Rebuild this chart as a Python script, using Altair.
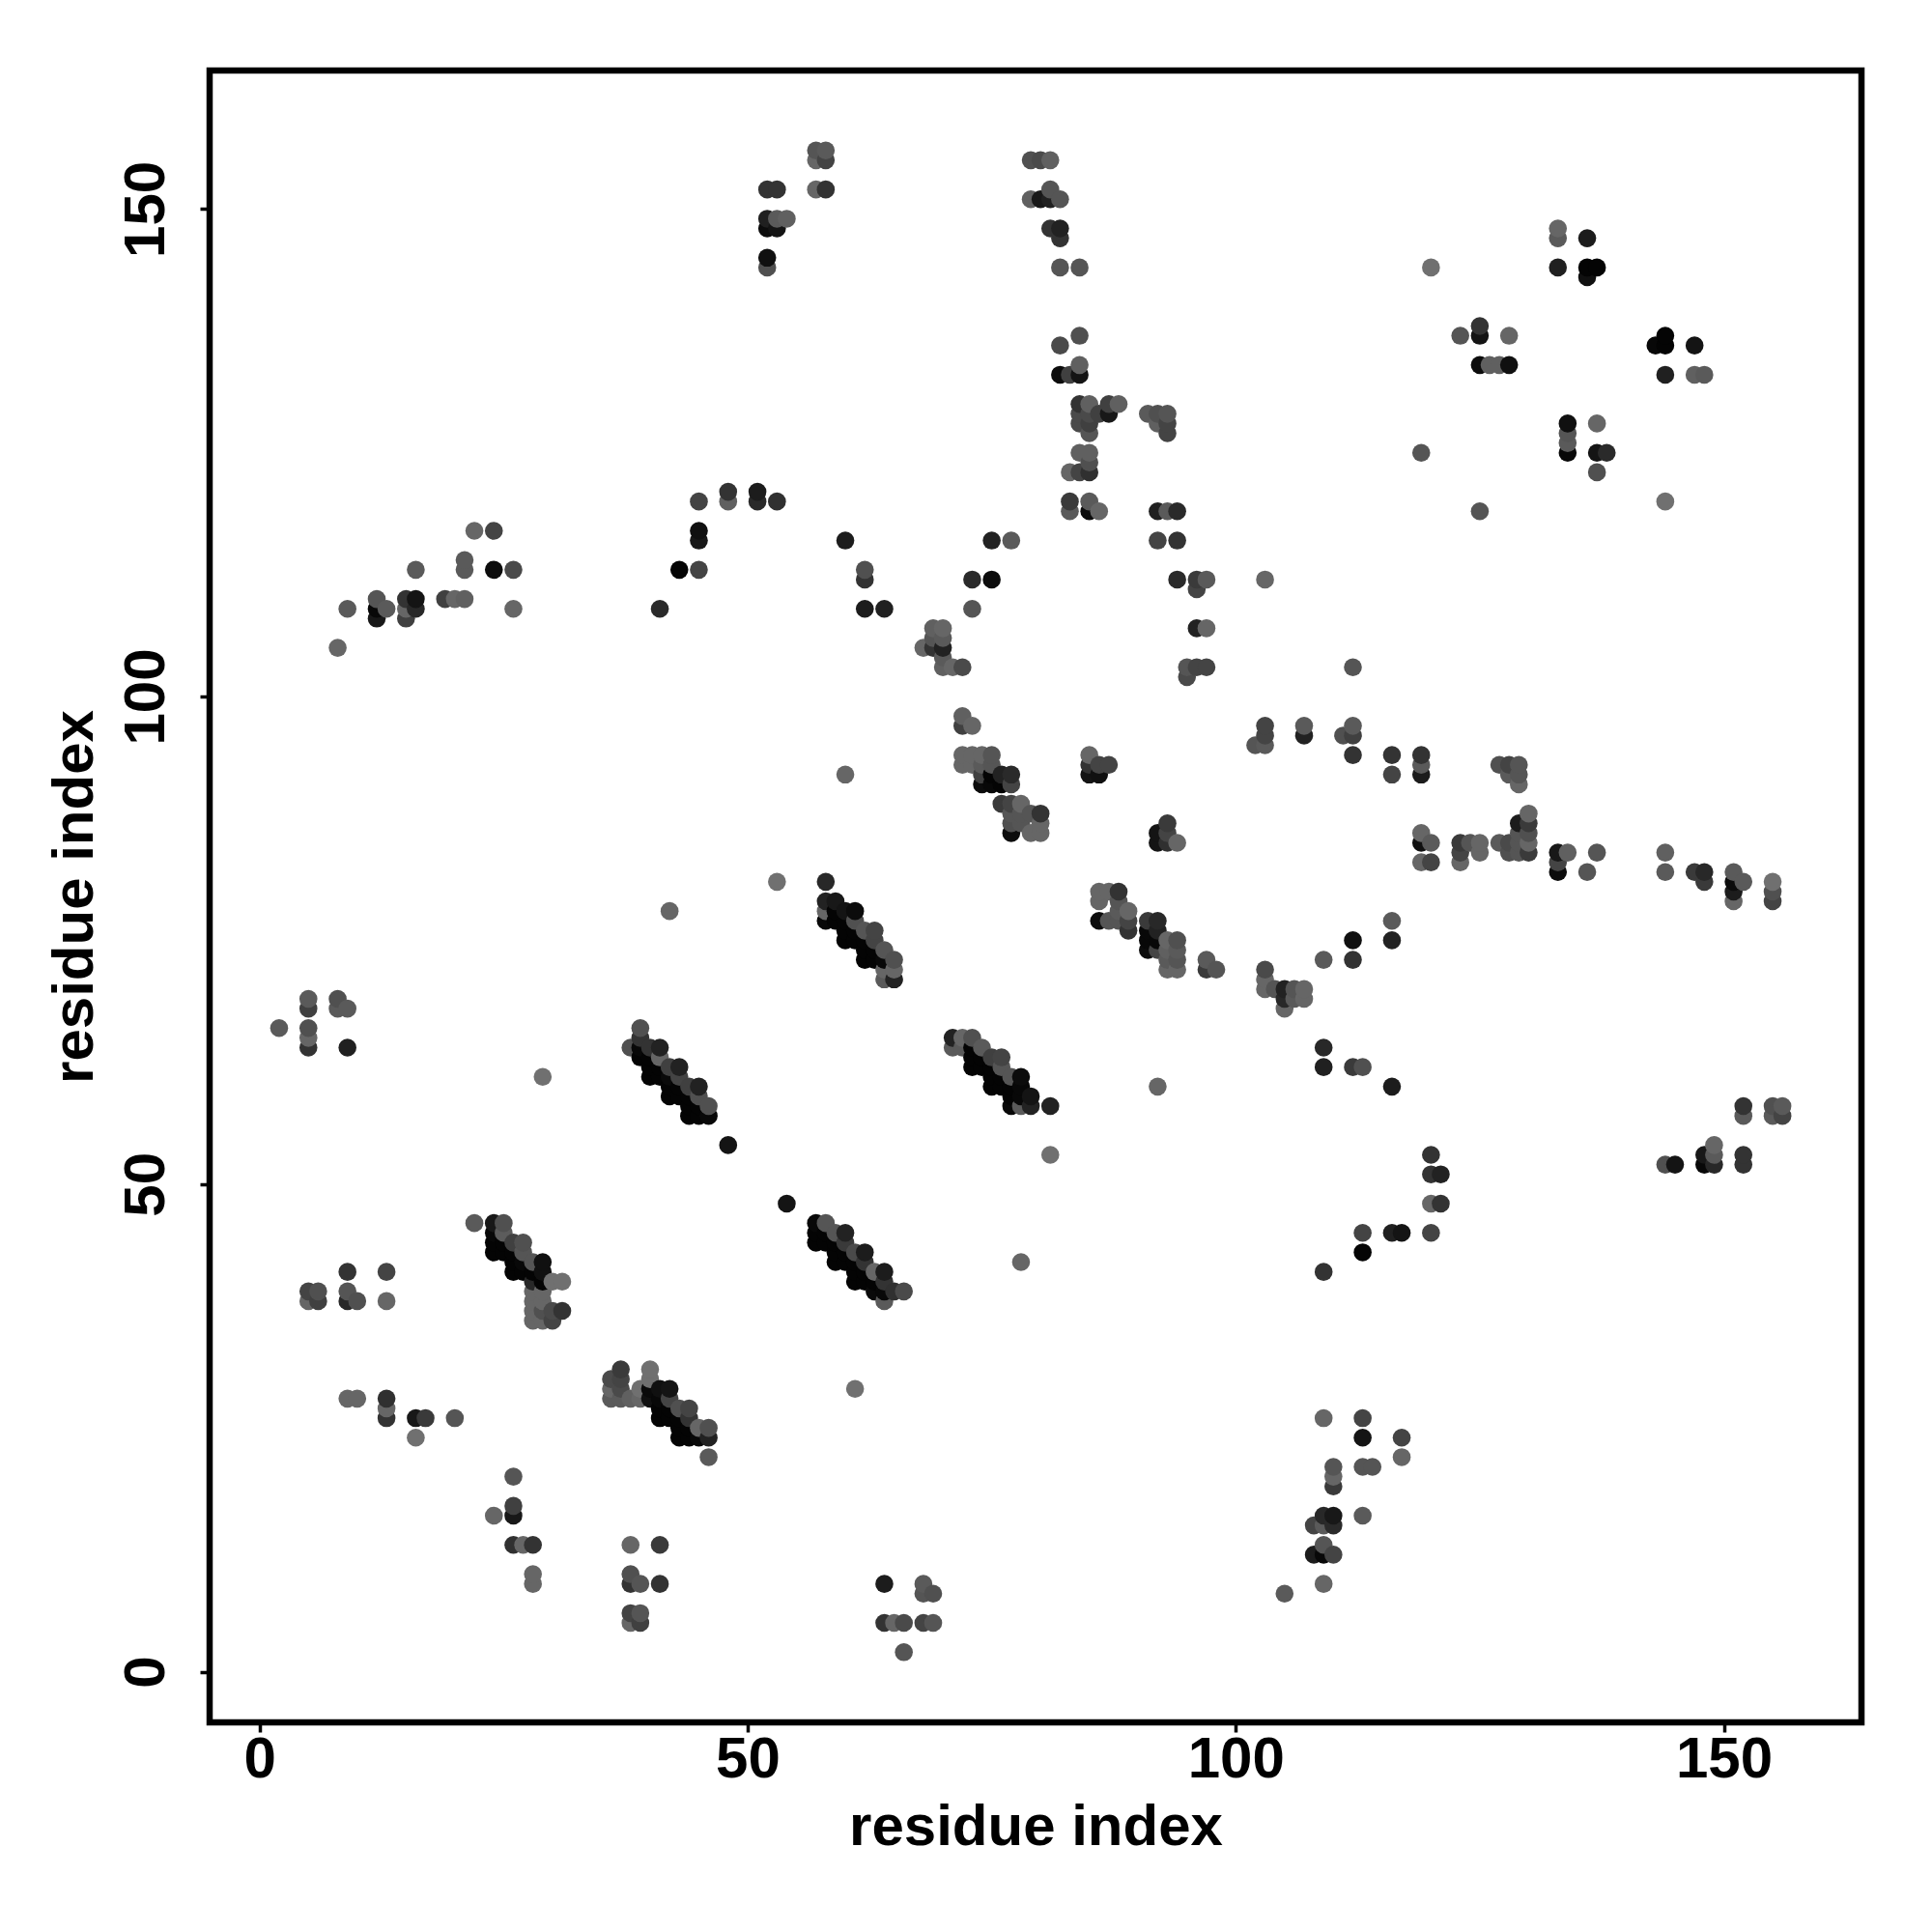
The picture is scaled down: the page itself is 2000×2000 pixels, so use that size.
import altair as alt
import pandas as pd

# (x, y, shade) triples, one list per cluster
low_left = [(26,20,0x55),(26,17,0x40),(26,16,0x18),(24,16,0x66),(26,13,0x30),(27,13,0x66),(28,13,0x33),
    (28,10,0x66),(28,9,0x66),(38,13,0x66),(41,13,0x3a),(38,10,0x50),(39,9,0x55),(38,9,0x33),(41,9,0x33),
    (38,6,0x44),(39,6,0x55),(38,5,0x66),(39,5,0x40),(9,28,0x66),(10,28,0x66),(13,28,0x30),(13,27,0x66),
    (13,26,0x33),(16,26,0x18),(17,26,0x3a),(20,26,0x55),(16,24,0x70),(9,41,0x33),(13,41,0x44),(5,39,0x44),
    (6,39,0x50),(5,38,0x66),(6,38,0x40),(9,39,0x55),(9,38,0x28),(10,38,0x50),(13,38,0x66)]
diag_24 = [(22,46,0x5a),(24,46,0x18),(25,46,0x50),(24,45,0x08),(24,44,0x04),(24,43,0x04),(25,45,0x5c),(25,44,0x04),
    (25,43,0x04),(26,44,0x40),(27,44,0x50),(27,43,0x55),(26,43,0x04),(26,42,0x04),(26,41,0x04),(27,42,0x08),
    (27,41,0x04),(28,40,0x28),(28,41,0x04),(28,42,0x55),(29,42,0x10),(29,41,0x10),(29,40,0x04),(30,40,0x70),
    (31,40,0x70),(29,39,0x66),(28,39,0x66),(28,38,0x66),(28,37,0x66),(28,36,0x66),(29,36,0x66),(29,37,0x50),
    (29,38,0x66),(30,37,0x4a),(30,36,0x44),(31,37,0x33)]
diag_39 = [(39,66,0x50),(38,64,0x50),(39,65,0x33),(39,64,0x08),(39,63,0x04),(40,64,0x33),(41,64,0x22),(41,63,0x66),
    (40,63,0x04),(40,62,0x04),(40,61,0x04),(42,62,0x40),(43,62,0x22),(43,61,0x44),(42,61,0x0a),(41,62,0x04),
    (41,61,0x04),(42,60,0x04),(42,59,0x04),(43,60,0x04),(44,60,0x40),(45,60,0x22),(45,59,0x50),(44,59,0x04),
    (43,59,0x04),(44,58,0x04),(44,57,0x04),(45,58,0x04),(45,57,0x04),(46,58,0x50),(46,57,0x08),(48,54,0x14),(29,61,0x70)]
upper_left_small = [(5,69,0x5a),(5,68,0x40),(8,69,0x50),(8,68,0x5a),(9,68,0x5a),(2,66,0x5a),(5,66,0x50),(5,65,0x66),
    (5,64,0x33),(9,64,0x20)]
diag_37 = [(37,31,0x3a),(36,30,0x4a),(37,30,0x44),(36,29,0x66),(37,29,0x4a),(36,28,0x5a),(37,28,0x5a),(38,28,0x60),
    (39,29,0x70),(39,28,0x66),(40,31,0x70),(40,30,0x70),(40,29,0x0a),(40,28,0x10),(41,29,0x10),(42,29,0x14),
    (41,28,0x08),(41,27,0x04),(41,26,0x04),(42,28,0x44),(42,27,0x04),(42,26,0x04),(43,27,0x50),(44,27,0x44),
    (44,26,0x33),(43,26,0x04),(43,25,0x04),(43,24,0x04),(44,25,0x04),(44,24,0x04),(45,25,0x66),(45,24,0x08),
    (46,25,0x50),(46,24,0x22),(46,22,0x5a)]
diag_58 = [(42,78,0x66),(53,81,0x70),(58,81,0x28),(60,92,0x66),(58,79,0x22),(59,79,0x18),(60,78,0x14),(61,78,0x0c),
    (58,78,0x66),(58,77,0x08),(59,78,0x04),(59,77,0x04),(60,77,0x04),(60,76,0x04),(60,75,0x04),(61,77,0x50),(62,76,0x55),
    (63,76,0x44),(63,75,0x44),(62,75,0x04),(61,76,0x04),(61,75,0x04),(62,74,0x04),(62,73,0x04),(63,74,0x04),
    (63,73,0x04),(64,74,0x55),(64,73,0x08),(65,73,0x50),(65,72,0x66),(65,71,0x22),(64,71,0x5a),(64,72,0x66)]
diag_73 = [(71,65,0x22),(71,64,0x5a),(72,65,0x66),(73,65,0x50),(74,64,0x5a),(73,64,0x04),(72,64,0x5a),(73,63,0x04),
    (73,62,0x04),(74,63,0x04),(74,62,0x04),(75,63,0x40),(76,63,0x44),(76,62,0x55),(75,62,0x04),(75,61,0x04),
    (75,60,0x04),(76,61,0x04),(76,60,0x04),(77,61,0x55),(78,61,0x0c),(78,60,0x08),(77,60,0x04),(77,59,0x04),
    (77,58,0x08),(78,59,0x08),(78,58,0x5a),(79,59,0x14),(79,58,0x22),(81,58,0x22),(81,53,0x70)]
diag_57 = [(54,48,0x14),(57,46,0x08),(58,46,0x55),(57,45,0x04),(57,44,0x04),(58,45,0x04),(58,44,0x04),(59,45,0x55),
    (60,45,0x22),(60,44,0x3a),(59,44,0x04),(59,43,0x04),(59,42,0x04),(60,43,0x04),(60,42,0x04),(61,43,0x4a),
    (62,43,0x1c),(62,42,0x33),(61,42,0x04),(61,41,0x04),(61,40,0x04),(62,41,0x04),(62,40,0x04),(63,41,0x66),
    (64,41,0x1c),(64,40,0x33),(63,40,0x04),(63,39,0x0a),(64,39,0x08),(65,39,0x30),(66,39,0x4a),(64,38,0x5a),
    (78,42,0x66),(61,29,0x70)]
low_mid = [(64,9,0x1c),(68,9,0x5a),(68,8,0x55),(69,8,0x50),(64,5,0x33),(65,5,0x66),(66,5,0x4a),(68,5,0x44),
    (69,5,0x55),(66,2,0x55)]
low_right = [(105,8,0x5a),(109,9,0x66),(108,12,0x1c),(109,12,0x08),(110,12,0x44),(109,13,0x55),(108,15,0x44),
    (109,15,0x5a),(110,15,0x2a),(109,16,0x28),(110,16,0x18),(113,16,0x5a),(110,19,0x3a),(110,20,0x66),(110,21,0x55),
    (113,21,0x55),(114,21,0x55),(117,22,0x66),(117,24,0x44),(113,24,0x14),(113,26,0x44),(109,26,0x66),(109,41,0x33),
    (113,43,0x04),(113,45,0x44),(116,45,0x20),(117,45,0x14),(120,45,0x44),(120,48,0x66),(121,48,0x33),(120,51,0x33),
    (121,51,0x22),(120,53,0x33)]
right_50s = [(144,52,0x50),(145,52,0x14),(149,54,0x66),(149,53,0x5a),(148,53,0x18),(148,52,0x08),(149,52,0x28),
    (152,53,0x33),(152,52,0x33),(152,58,0x33),(152,57,0x5a),(155,58,0x50),(155,57,0x5a),(156,58,0x5a),(156,57,0x44),
    (92,60,0x66),(116,60,0x1c),(109,62,0x20),(109,64,0x28),(112,62,0x3a),(113,62,0x50)]
mid_70s = [(103,72,0x4a),(103,71,0x66),(103,70,0x66),(104,70,0x55),(105,70,0x22),(105,69,0x28),(105,68,0x66),
    (106,70,0x55),(106,69,0x5a),(107,70,0x66),(107,69,0x66),(109,73,0x5a),(112,73,0x33),(112,75,0x10),(116,75,0x22),
    (116,77,0x5a),(97,73,0x5a),(97,72,0x3a),(98,72,0x55)]
diag_86 = [(91,77,0x3a),(92,77,0x28),(92,76,0x22),(91,76,0x08),(92,75,0x08),(91,75,0x08),(91,74,0x0c),(92,74,0x44),
    (93,75,0x66),(94,75,0x50),(93,74,0x60),(94,74,0x5a),(93,73,0x5a),(94,73,0x55),(93,72,0x66),(94,72,0x66),
    (86,80,0x66),(87,80,0x66),(88,80,0x33),(86,79,0x66),(88,79,0x55),(86,77,0x0c),(87,77,0x55),(88,78,0x5a),
    (88,77,0x55),(89,78,0x66),(89,77,0x44),(89,76,0x33)]
mid_110 = [(75,116,0x22),(77,116,0x5a),(92,116,0x44),(94,116,0x33),(62,113,0x50),(62,112,0x33),(62,109,0x1c),
    (64,109,0x20),(73,112,0x2a),(75,112,0x0c),(94,112,0x2a),(96,112,0x3a),(97,112,0x5a),(96,111,0x44),(73,109,0x55),
    (96,107,0x22),(97,107,0x66),(95,103,0x55),(96,103,0x44),(97,103,0x44),(95,102,0x4a),(103,112,0x66),(112,103,0x55)]
cluster_68 = [(69,107,0x60),(70,107,0x66),(68,105,0x66),(69,106,0x55),(70,106,0x5a),(69,105,0x33),(70,105,0x22),
    (70,104,0x5a),(70,103,0x60),(71,103,0x66),(72,103,0x4a)]
cluster_72 = [(72,98,0x60),(73,97,0x66),(72,97,0x40),(72,94,0x66),(72,93,0x66),(73,94,0x66),(73,93,0x66),(74,94,0x66),
    (75,94,0x55),(74,93,0x5a),(75,93,0x55),(74,92,0x40),(74,91,0x0c),(75,92,0x04),(75,91,0x08),(76,92,0x22),
    (77,92,0x2a),(76,91,0x04),(77,91,0x44),(76,89,0x3a),(77,89,0x44),(78,89,0x66),(77,88,0x55),(78,88,0x55),
    (79,88,0x55),(80,88,0x33),(77,87,0x50),(78,87,0x55),(80,87,0x66),(77,86,0x0c),(79,86,0x66),(80,86,0x66)]
cluster_85 = [(85,94,0x66),(86,93,0x44),(87,93,0x44),(85,93,0x33),(85,92,0x14),(86,92,0x10),(93,87,0x3a),(92,86,0x14),
    (93,86,0x44),(92,85,0x14),(93,85,0x30),(94,85,0x66)]
row_90 = [(103,97,0x44),(103,96,0x44),(102,95,0x55),(103,95,0x5a),(107,97,0x5a),(107,96,0x22),(111,96,0x50),
    (112,97,0x5a),(112,96,0x40),(112,94,0x33),(116,94,0x33),(116,92,0x44),(119,94,0x33),(119,93,0x5a),(119,92,0x1c),
    (127,93,0x50),(128,93,0x44),(129,93,0x55),(128,92,0x5a),(129,92,0x55),(129,91,0x66),(130,88,0x66),(129,87,0x1c),
    (130,87,0x3a)]
row_85 = [(119,86,0x66),(120,85,0x5a),(119,85,0x10),(119,83,0x66),(120,83,0x44),(123,85,0x3a),(124,85,0x55),
    (125,85,0x66),(123,84,0x44),(125,84,0x66),(123,83,0x66),(127,85,0x5a),(128,85,0x4a),(128,84,0x50),(129,85,0x55),
    (129,84,0x55),(130,85,0x66),(130,84,0x3a),(129,86,0x55),(130,86,0x50),(133,84,0x18),(134,84,0x60),(133,83,0x44),
    (133,82,0x0c),(136,82,0x55),(137,84,0x55),(144,84,0x60),(144,82,0x5a),(147,82,0x3a),(148,82,0x28),(148,81,0x3a),
    (151,82,0x5a),(151,81,0x0c),(152,81,0x5a),(151,80,0x1c),(151,79,0x66),(155,81,0x70),(155,80,0x50),(155,79,0x44)]
upper_right = [(120,144,0x70),(133,148,0x66),(133,147,0x5a),(136,147,0x1c),(133,144,0x20),(136,144,0x04),(137,144,0x04),
    (136,143,0x10),(125,138,0x33),(125,137,0x14),(123,137,0x55),(128,137,0x66),(125,134,0x0c),(126,134,0x60),
    (127,134,0x60),(128,134,0x10),(144,137,0x04),(143,136,0x08),(144,136,0x04),(147,136,0x14),(144,133,0x20),
    (147,133,0x60),(148,133,0x5a),(134,128,0x10),(134,127,0x55),(134,126,0x5a),(134,125,0x08),(137,128,0x66),
    (137,125,0x14),(138,125,0x2a),(137,123,0x50),(119,125,0x55),(125,119,0x55),(144,120,0x70)]
top_mid = [(57,156,0x55),(58,156,0x5a),(57,155,0x66),(58,155,0x44),(52,152,0x33),(53,152,0x33),(57,152,0x66),(58,152,0x33),
    (52,149,0x20),(53,149,0x5a),(54,149,0x60),(52,148,0x0c),(53,148,0x14),(52,145,0x10),(52,144,0x50),(79,155,0x50),
    (80,155,0x4a),(81,155,0x60),(79,151,0x60),(80,151,0x18),(81,151,0x20),(81,152,0x55),(82,151,0x55),(81,148,0x33),
    (82,148,0x22),(82,147,0x33),(82,144,0x55),(84,144,0x55),(84,137,0x50),(82,136,0x4a),(82,133,0x0c),(83,133,0x40),
    (84,133,0x14),(84,134,0x60),(84,130,0x33),(85,130,0x60),(87,130,0x40),(88,130,0x60),(87,129,0x18),(84,129,0x4a),
    (84,128,0x4a),(85,129,0x4a),(85,128,0x40),(85,127,0x55),(86,129,0x40),(84,125,0x60),(85,125,0x60),(85,124,0x50),
    (83,123,0x66),(84,123,0x44),(85,123,0x30),(83,120,0x3a),(83,119,0x5a),(85,120,0x5a),(85,119,0x0c),(86,119,0x66),
    (51,121,0x1c),(51,120,0x2a),(53,120,0x30),(91,129,0x5a),(92,129,0x50),(93,129,0x55),(92,128,0x60),(93,128,0x44),
    (93,127,0x44),(92,119,0x20),(93,119,0x5a),(94,119,0x2a)]
upper_left = [(8,105,0x66),(9,109,0x5a),(12,110,0x55),(12,109,0x08),(12,108,0x18),(13,109,0x5a),(15,110,0x33),(16,110,0x14),
    (15,109,0x66),(16,109,0x28),(15,108,0x40),(16,113,0x5a),(19,110,0x40),(20,110,0x66),(21,110,0x60),(21,114,0x5a),
    (21,113,0x5a),(22,117,0x66),(24,117,0x44),(24,113,0x0c),(26,113,0x4a),(26,109,0x66),(41,109,0x2a),(43,113,0x04),
    (45,113,0x44),(45,117,0x10),(45,116,0x18),(45,120,0x44),(48,121,0x33),(48,120,0x60),(60,116,0x1c)]

clusters = [low_left, diag_24, diag_39, upper_left_small, diag_37, diag_58, diag_73, diag_57, low_mid, low_right,
            right_50s, mid_70s, diag_86, mid_110, cluster_68, cluster_72, cluster_85, row_90, row_85, upper_right,
            top_mid, upper_left]

rows = [p for c in clusters for p in c]
df = pd.DataFrame(rows, columns=["i", "j", "shade"])
df = df.sort_values(["i", "j"], kind="stable").reset_index(drop=True)
df["seq"] = df.index
df["col"] = df["shade"].map(lambda g: f"#{g:02x}{g:02x}{g:02x}")

FONT = "Liberation Sans"
axis_kw = dict(values=[0, 50, 100, 150], grid=False, domain=False, tickColor="black", tickWidth=3.5, tickSize=10,
               labelFont=FONT, labelFontWeight="bold", labelFontSize=60, labelColor="black",
               titleFont=FONT, titleFontWeight="bold", titleFontSize=60, titleColor="black",
               title="residue index")

chart = alt.Chart(df).mark_circle(size=346, opacity=1).encode(
    x=alt.X("i:Q", scale=alt.Scale(domain=[-5.12, 164.1], nice=False, zero=False),
            axis=alt.Axis(labelPadding=-1, titlePadding=11, labelFlush=False, labelOverlap=False, **axis_kw)),
    y=alt.Y("j:Q", scale=alt.Scale(domain=[-5.2, 164.2], nice=False, zero=False),
            axis=alt.Axis(labelAngle=270, labelPadding=25, titlePadding=13, labelFlush=False, labelOverlap=False,
                          labelAlign="center", labelBaseline="bottom", **axis_kw)),
    color=alt.Color("col:N", scale=None, legend=None),
    order=alt.Order("seq:Q"),
).properties(
    width=1710, height=1710,
    autosize=alt.AutoSizeParams(type="none"),
    padding={"left": 209, "top": 65, "right": 60, "bottom": 200},
    background="white",
).configure_view(stroke="black", strokeWidth=6.5)

chart.save("out.html", embed_options={"renderer": "svg", "actions": False})
